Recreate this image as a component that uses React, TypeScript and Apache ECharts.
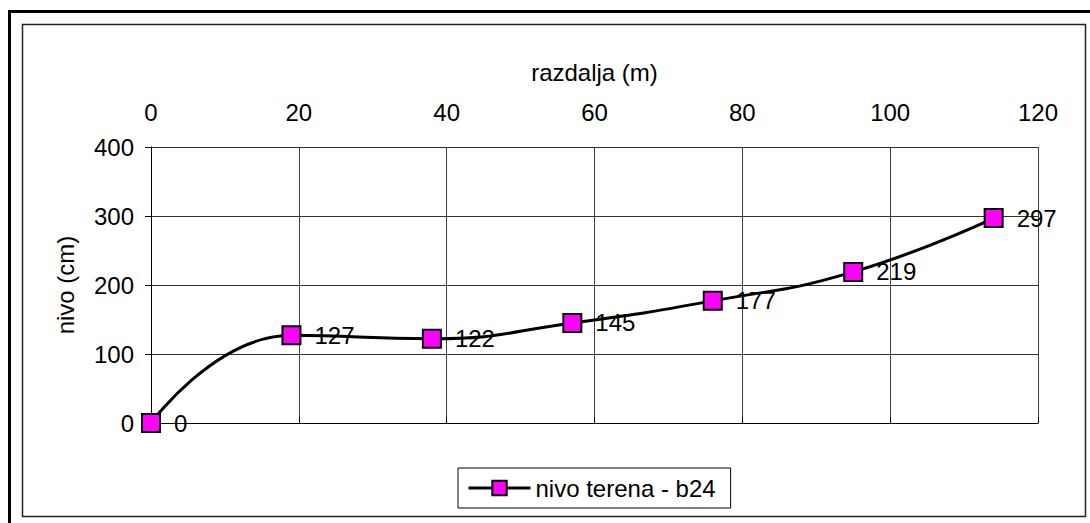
import React, { useEffect, useRef } from "react";
import * as echarts from "echarts";

const distances = [0, 19, 38, 57, 76, 95, 114];
const levels = [0, 127, 122, 145, 177, 219, 297];
const seriesName = "nivo terena - b24";
const xAxisName = "razdalja (m)";
const yAxisName = "nivo (cm)";

const FONT = "Arial, 'Liberation Sans', sans-serif";

export default function App() {
  const ref = useRef<HTMLDivElement>(null);
  useEffect(() => {
    if (!ref.current) return;
    const chart = echarts.init(ref.current, null, { renderer: "svg" });
    const data = distances.map((d, i) => [d, levels[i]]);
    chart.setOption({
      animation: false,
      backgroundColor: "#fff",
      textStyle: { fontFamily: FONT, color: "#000" },
      grid: { left: 151, top: 147, right: 52, bottom: 100 },
      xAxis: {
        type: "value",
        position: "top",
        min: 0,
        max: 120,
        interval: 20,
        name: xAxisName,
        nameLocation: "middle",
        nameGap: 63,
        nameTextStyle: { fontSize: 24, color: "#000", fontFamily: FONT },
        axisLine: { show: true, lineStyle: { color: "#000", width: 1 } },
        axisTick: { show: true, inside: false, length: 6, lineStyle: { color: "#000" } },
        axisLabel: { fontSize: 24, color: "#000", margin: 23, fontFamily: FONT },
        splitLine: { show: true, lineStyle: { color: "#404040", width: 1 } },
      },
      yAxis: {
        type: "value",
        min: 0,
        max: 400,
        interval: 100,
        name: yAxisName,
        nameLocation: "middle",
        nameGap: 74,
        nameRotate: 90,
        nameTextStyle: { fontSize: 24, color: "#000", fontFamily: FONT },
        axisLine: { show: true, lineStyle: { color: "#000", width: 1 } },
        axisTick: { show: true, inside: false, length: 6, lineStyle: { color: "#000" } },
        axisLabel: { fontSize: 24, color: "#000", margin: 17, fontFamily: FONT },
        splitLine: { show: true, lineStyle: { color: "#303030", width: 1 } },
      },
      legend: {
        show: true,
        left: 458,
        top: 468,
        orient: "horizontal",
        padding: [8, 15, 8, 9],
        itemWidth: 62,
        itemHeight: 18,
        itemGap: 5,
        borderColor: "#000",
        borderWidth: 1,
        lineStyle: { width: 3, color: "#000" },
        textStyle: { fontSize: 24, color: "#000", fontFamily: FONT },
        data: [seriesName],
      },
      graphic: [
        {
          type: "rect",
          shape: { x: 9.5, y: 11.5, width: 1200, height: 700 },
          style: { fill: "none", stroke: "#000", lineWidth: 3 },
          silent: true,
        },
        {
          type: "rect",
          shape: { x: 22.5, y: 24.5, width: 1063, height: 492 },
          style: { fill: "none", stroke: "#222", lineWidth: 1.5 },
          silent: true,
        },
      ],
      series: [
        {
          name: seriesName,
          type: "line",
          data,
          smooth: 0.5,
          symbol: "rect",
          symbolSize: 18,
          lineStyle: { color: "#000", width: 3 },
          itemStyle: { color: "#FF00FF", borderColor: "#000", borderWidth: 2 },
          label: {
            show: true,
            position: "right",
            distance: 13,
            fontSize: 24,
            color: "#000",
            fontFamily: FONT,
            formatter: (p: any) => String(p.value[1]),
          },
          z: 5,
        },
      ],
    });
    return () => chart.dispose();
  }, []);
  return (
    <div
      ref={ref}
      style={{ position: "fixed", left: 0, top: 0, width: 1090, height: 523, background: "#fff" }}
    />
  );
}
